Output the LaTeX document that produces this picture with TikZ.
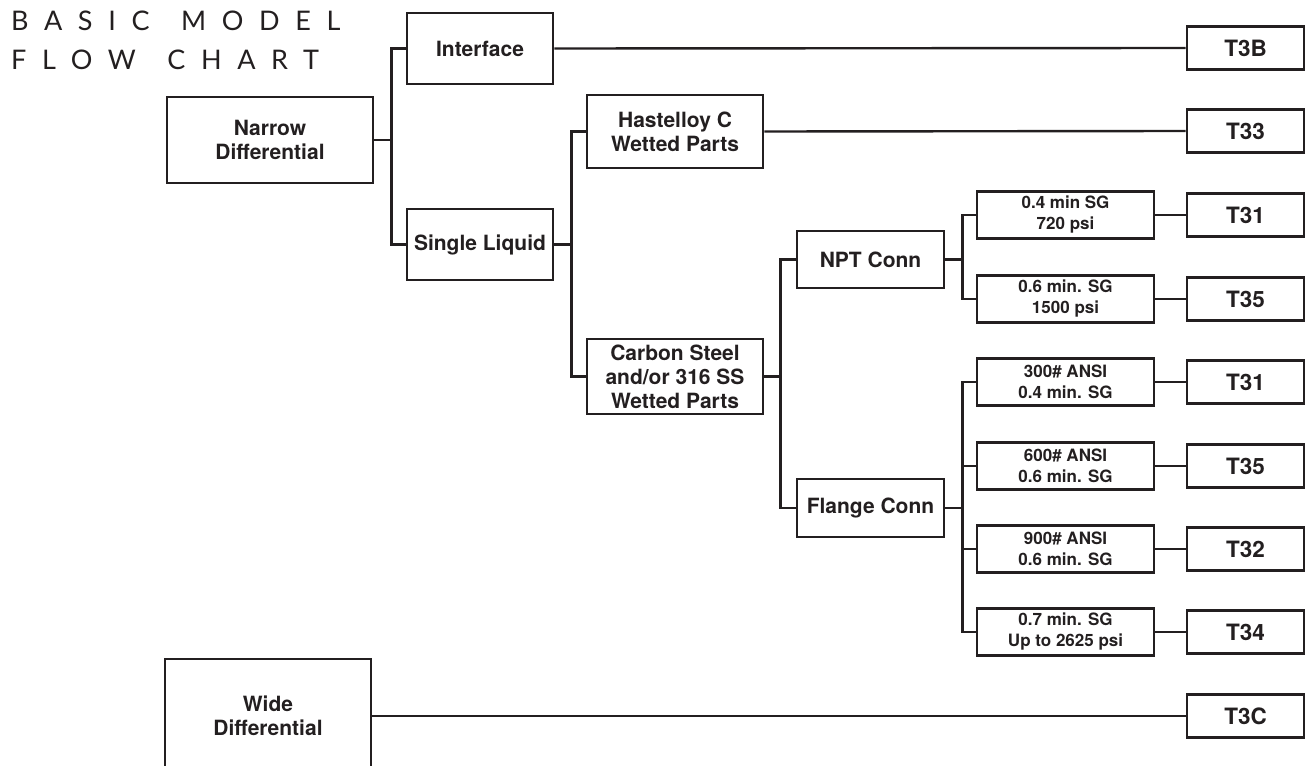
\documentclass[tikz,border=0pt]{standalone}
\usepackage{fontspec}
\setmainfont{TeX Gyre Heros}
\newfontfamily\titlefont[LetterSpace=58]{Lato}
\usepackage{tikz}

\definecolor{ink}{HTML}{231F20}

\begin{document}
\begin{tikzpicture}[x=1pt,y=1pt,yscale=-1,xscale=1,
  every node/.style={text=ink},
  box/.style={draw=ink,line width=2.6pt,inner sep=0pt,align=center,
    font=\fontsize{21}{24}\selectfont\bfseries},
  specbox/.style={box,minimum width=177,minimum height=47,
    font=\fontsize{17}{21}\selectfont\bfseries},
  modelbox/.style={box,minimum width=117,minimum height=43,
    font=\fontsize{22.5}{26}\selectfont\bfseries},
  link/.style={draw=ink,line width=2.4pt,line join=miter},
  heading/.style={anchor=base west,inner sep=0pt,
    font=\titlefont\fontsize{27}{31}\selectfont}]
\useasboundingbox (0,0) rectangle (1305,765);
\clip (0,0) rectangle (1305,765);

% Title
\node[heading] (title1) at (11,30.5) {BASIC\hspace{9pt} MODEL};
\node[heading] (title2) at (11,69.5) {FLOW\hspace{9pt} CHART};

% Main boxes
\node[box,minimum width=206,minimum height=86] (narrow) at (270,140) {Narrow\\Differential};
\node[box,minimum width=206,minimum height=114] (wide) at (268,716) {Wide\\Differential};
\node[box,minimum width=146,minimum height=71] (iface) at (480,48.5) {Interface};
\node[box,minimum width=146,minimum height=71] (single) at (480,244.5) {Single Liquid};
\node[box,minimum width=176,minimum height=73] (hast) at (675,131.5) {Hastelloy C\\Wetted Parts};
\node[box,minimum width=176,minimum height=75] (carbon) at (675,376.5) {Carbon Steel\\and/or 316 SS\\Wetted Parts};
\node[box,minimum width=147,minimum height=57] (npt) at (870.5,259.5) {NPT Conn};
\node[box,minimum width=147,minimum height=58] (flange) at (870.5,508) {Flange Conn};

% Spec boxes
\node[specbox] (s1) at (1065.5,215) {0.4 min SG\\720 psi};
\node[specbox] (s2) at (1065.5,299) {0.6 min. SG\\1500 psi};
\node[specbox] (s3) at (1065.5,382) {300\# ANSI\\0.4 min. SG};
\node[specbox] (s4) at (1065.5,466) {600\# ANSI\\0.6 min. SG};
\node[specbox] (s5) at (1065.5,549) {900\# ANSI\\0.6 min. SG};
\node[specbox] (s6) at (1065.5,632) {0.7 min. SG\\Up to 2625 psi};

% Model boxes
\node[modelbox] (t3b) at (1245.5,48) {T3B};
\node[modelbox] (t33) at (1245.5,131) {T33};
\node[modelbox] (t31a) at (1245.5,215) {T31};
\node[modelbox] (t35a) at (1245.5,299) {T35};
\node[modelbox] (t31b) at (1245.5,382) {T31};
\node[modelbox] (t35b) at (1245.5,466) {T35};
\node[modelbox] (t32) at (1245.5,549) {T32};
\node[modelbox] (t34) at (1245.5,632) {T34};
\node[modelbox] (t3c) at (1245.5,716) {T3C};

% Branches
\draw[link] (narrow.east) -- ++(17,0) coordinate (b1);
\draw[link] (iface.west) -| (b1) |- (single.west);
\draw[link] (single.east) -- ++(17,0) coordinate (b2);
\draw[link] (hast.west) -| (b2) |- (carbon.west);
\draw[link] (carbon.east) -- ++(16,0) coordinate (b3);
\draw[link] (npt.west) -| (b3) |- (flange.west);
\draw[link] (npt.east) -- ++(17,0) coordinate (b4);
\draw[link] (s1.west) -| (b4) |- (s2.west);
\draw[link] (flange.east) -- ++(17,0) coordinate (b5);
\draw[link] (s3.west) -| (b5) |- (s6.west);
\draw[link] (s4.west) -- (s4.west -| b5);
\draw[link] (s5.west) -- (s5.west -| b5);

% Straight runs to models
\draw[link] (iface.east) -- (t3b.west);
\draw[link] (hast.east) -- (t33.west);
\draw[link] (s1.east) -- (t31a.west);
\draw[link] (s2.east) -- (t35a.west);
\draw[link] (s3.east) -- (t31b.west);
\draw[link] (s4.east) -- (t35b.west);
\draw[link] (s5.east) -- (t32.west);
\draw[link] (s6.east) -- (t34.west);
\draw[link] (wide.east) -- (t3c.west);

\end{tikzpicture}
\end{document}
